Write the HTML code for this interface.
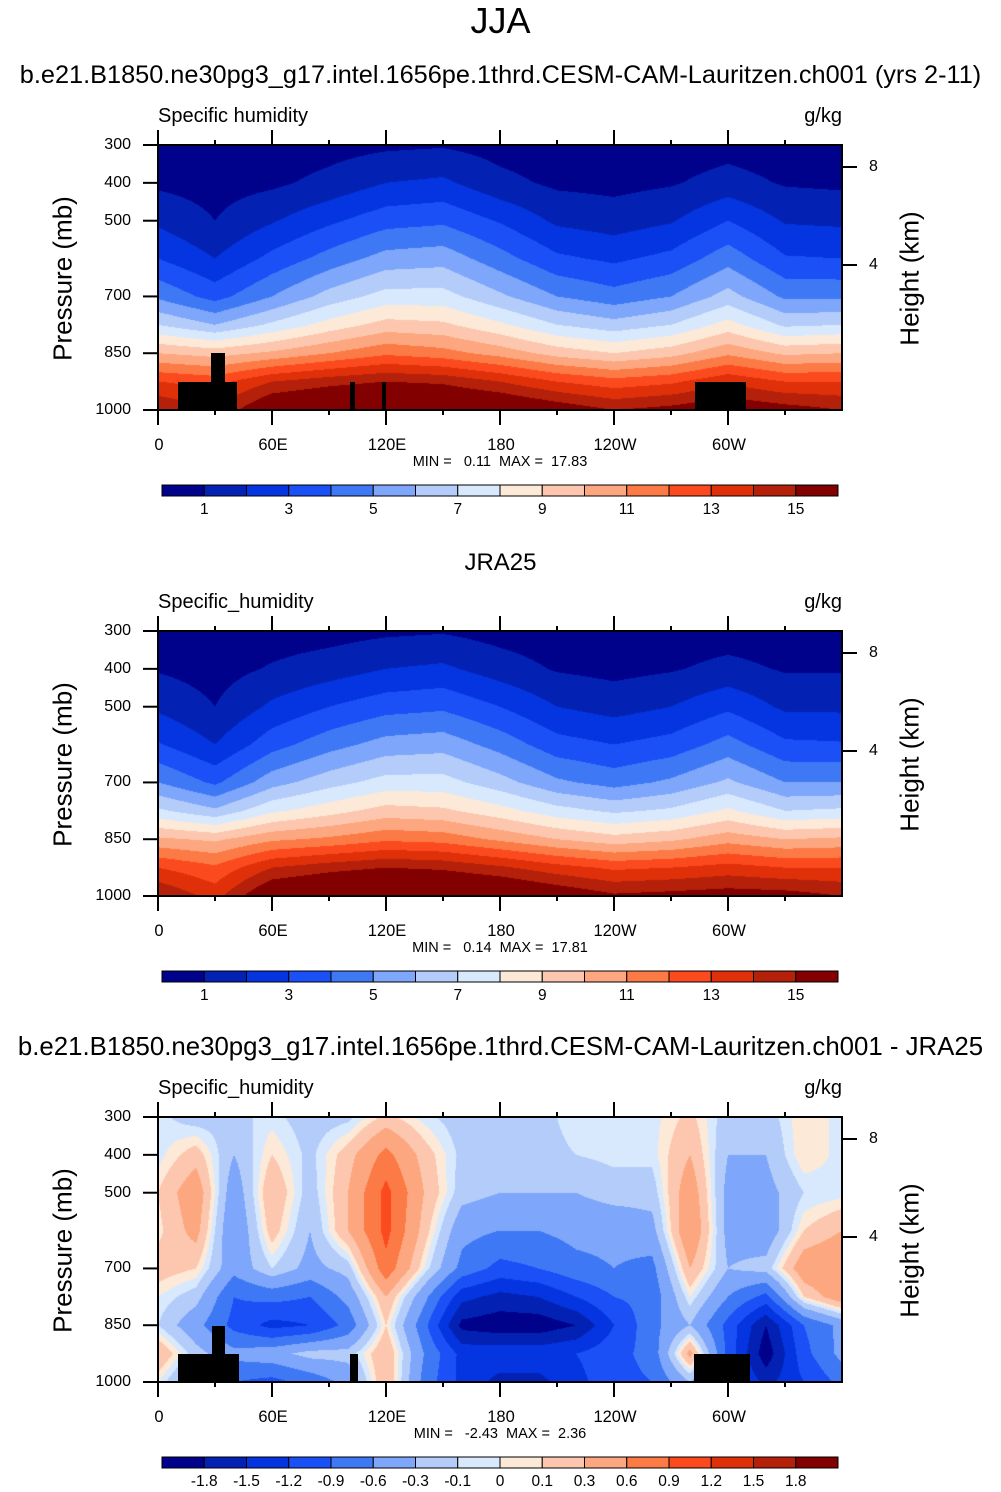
<!DOCTYPE html>
<html><head><meta charset="utf-8"><style>
body{margin:0;background:#fff;width:1001px;height:1492px;overflow:hidden;position:relative;font-family:"Liberation Sans",Arial,sans-serif;color:#000}
.t{position:absolute;white-space:nowrap}
canvas{position:absolute}
</style></head><body>
<div class="t" style="left:0;width:1001px;text-align:center;top:0px;font-size:36px">JJA</div>
<div class="t" style="left:0;width:1001px;text-align:center;top:61px;font-size:25.3px">b.e21.B1850.ne30pg3_g17.intel.1656pe.1thrd.CESM-CAM-Lauritzen.ch001 (yrs 2-11)</div>
<div class="t" style="left:0;width:1001px;text-align:center;top:549px;font-size:24px">JRA25</div>
<div class="t" style="left:0;width:1001px;text-align:center;top:1033px;font-size:25.8px">b.e21.B1850.ne30pg3_g17.intel.1656pe.1thrd.CESM-CAM-Lauritzen.ch001 - JRA25</div>
<div id="root"></div>
<script>
const lons13=[0,30,60,90,120,150,180,210,240,270,300,330,360];
const lons19=[0,20,40,60,80,100,120,140,160,180,200,220,240,260,280,300,320,340,360];
const levs=[300,400,500,600,700,775,850,925,1000];
const modelQ=[
[0.4,0.3,0.4,0.6,0.8,0.9,0.6,0.4,0.3,0.4,0.6,0.4,0.4],
[0.8,0.6,0.8,1.3,2.0,2.2,1.3,0.8,0.7,0.9,1.4,0.9,0.8],
[1.8,1.0,1.9,2.8,3.6,3.8,2.9,1.8,1.5,1.9,3.0,1.9,1.8],
[3.0,2.0,3.3,4.4,5.4,5.6,4.4,3.2,2.8,3.3,4.6,3.1,3.0],
[4.8,3.6,5.0,6.4,7.4,7.4,6.2,5.0,4.4,5.0,6.4,4.8,4.8],
[7.0,6.0,7.2,8.4,9.4,9.2,8.2,7.0,6.4,7.0,8.4,6.8,7.0],
[10,9.6,10.2,11,11.8,11.4,10.6,9.6,9.0,9.6,10.8,9.8,10],
[13,12.6,14,14.6,15,14.8,14,13,12.4,12.8,13.8,13,13],
[15,14,16.4,17,17.4,17,16.6,15.8,15,15.4,16,15.5,15]];
const obsQ=[
[0.4,0.3,0.5,0.6,0.8,0.9,0.6,0.4,0.3,0.4,0.5,0.4,0.4],
[0.9,0.6,1.1,1.5,2.0,2.2,1.5,0.9,0.7,0.9,1.3,0.9,0.9],
[1.8,1.0,2.2,3.0,3.6,3.8,3.0,2.0,1.6,2.0,2.8,1.8,1.8],
[3.1,2.0,3.6,4.6,5.4,5.6,4.6,3.4,3.0,3.4,4.4,3.2,3.1],
[5.0,3.8,5.6,6.6,7.4,7.4,6.4,5.2,4.6,5.2,6.2,5.0,5.0],
[7.2,6.2,7.8,8.6,9.4,9.2,8.4,7.4,6.8,7.2,8.2,7.0,7.2],
[10.2,9.8,10.8,11.2,11.8,11.6,10.8,10,9.4,9.8,10.6,10,10.2],
[13,12.2,14,14.6,15,14.8,14.2,13.4,12.8,13,13.4,13,13],
[15,13.6,16.4,17,17.4,17.2,16.8,16,15.2,15.4,15.6,15.5,15]];
const diffQ=[
[-0.05,-0.2,-0.15,-0.05,-0.2,-0.15,0.15,-0.05,-0.2,-0.2,-0.15,-0.05,-0.05,-0.05,0.15,-0.2,-0.2,0.1,-0.05],
[-0.05,0.2,-0.3,0.1,-0.15,0.2,0.7,0.2,-0.15,-0.2,-0.15,-0.1,-0.05,-0.05,0.3,-0.3,-0.3,0.1,-0.05],
[0.1,0.5,-0.5,0.3,-0.2,0.3,1.0,0.3,-0.2,-0.3,-0.3,-0.3,-0.2,-0.2,0.5,-0.4,-0.4,-0.1,-0.05],
[0.05,0.4,-0.6,0.2,-0.3,0.3,1.0,0.2,-0.5,-0.6,-0.6,-0.5,-0.5,-0.4,0.6,-0.4,-0.5,0.1,0.3],
[0.2,0.1,-0.5,-0.1,-0.4,-0.2,0.8,0,-0.7,-1.0,-0.9,-0.7,-0.6,-0.7,0.3,-0.3,-0.2,0.5,0.6],
[0,-0.2,-0.9,-0.8,-0.9,-0.5,0.3,-0.5,-1.4,-1.6,-1.5,-1.2,-0.9,-0.8,0,-0.6,-1.0,0.1,0.5],
[-0.1,-0.5,-1.0,-1.3,-1.2,-0.8,0.1,-0.8,-1.9,-2.0,-2.0,-1.8,-1.2,-0.7,-0.3,-1.0,-1.8,-0.9,-0.5],
[0.3,-0.2,-0.5,-0.4,-0.2,-0.2,0.3,-0.6,-1.3,-1.3,-1.3,-1.2,-1.0,-0.8,0.4,-1.0,-2.0,-1.0,-0.5],
[0,-0.5,-0.9,-1.0,-0.8,-0.5,0.3,-0.7,-1.3,-1.6,-1.6,-1.3,-1.0,-0.9,-0.3,-1.0,-1.6,-1.2,-0.8]];
const qLevels=[1,2,3,4,5,6,7,8,9,10,11,12,13,14,15];
const qLabels=['1','3','5','7','9','11','13','15'];
const dLevels=[-1.8,-1.5,-1.2,-0.9,-0.6,-0.3,-0.1,0,0.1,0.3,0.6,0.9,1.2,1.5,1.8];
const dLabels=['-1.8','-1.5','-1.2','-0.9','-0.6','-0.3','-0.1','0','0.1','0.3','0.6','0.9','1.2','1.5','1.8'];
const colors=['#00028c','#0322b4','#0535e0','#1a50f5','#3f78f5','#7ea6fa','#b4ccfa','#d8e9fe','#fde9d8','#fcc7ae','#fca77f','#fc7a45','#fc4a1f','#e0300a','#b4200a','#820000'];
const pTicks=[300,400,500,700,850,1000];
const lonLabels=['0','60E','120E','180','120W','60W'];
const minmax=[['0.11','17.83'],['0.14','17.81'],['-2.43','2.36']];

const root=document.getElementById('root');
const X0=158,W=684,H=265;
const xOf=l=>X0+l/360*W;
function rgb(h){return[parseInt(h.slice(1,3),16),parseInt(h.slice(3,5),16),parseInt(h.slice(5,7),16)];}
const rgbs=colors.map(rgb);
function interp(arr,v){let i=0;while(i<arr.length-2&&v>arr[i+1])i++;return[i,(v-arr[i])/(arr[i+1]-arr[i])];}
function text(s,x,y,size,align,name,extra){const d=document.createElement('div');d.className='t';d.textContent=s;


let st=`top:${y}px;font-size:${size}px;`;if(align==='c')st+=`left:${x-200}px;width:400px;text-align:center;`;else if(align==='r')st+=`left:${x-200}px;width:200px;text-align:right;`;else st+=`left:${x}px;`;d.style.cssText=st+(extra||'');root.appendChild(d);return d;}
function panel(Y0,lons,grid,levels,labels,labelIdx,topo,mm,ttl,pi){
 const c=document.createElement('canvas');c.width=W;c.height=H;c.style.left=X0+'px';c.style.top=Y0+'px';
 
 
 root.appendChild(c);const ctx=c.getContext('2d');const img=ctx.createImageData(W,H);
 for(let py=0;py<H;py++){const p=300+(py+0.5)/H*700;const[j,fy]=interp(levs,p);
  for(let px=0;px<W;px++){const l=(px+0.5)/W*360;const[i,fx]=interp(lons,l);
   const v=(grid[j][i]*(1-fx)+grid[j][i+1]*fx)*(1-fy)+(grid[j+1][i]*(1-fx)+grid[j+1][i+1]*fx)*fy;
   let k=0;while(k<levels.length&&v>=levels[k]-1e-9)k++;const col=rgbs[k];const o=(py*W+px)*4;
   img.data[o]=col[0];img.data[o+1]=col[1];img.data[o+2]=col[2];img.data[o+3]=255;}}
 ctx.putImageData(img,0,0);
 const NS='http://www.w3.org/2000/svg';const svg=document.createElementNS(NS,'svg');
 svg.setAttribute('width',1001);svg.setAttribute('height',1492);svg.style.cssText='position:absolute;left:0;top:0';
 
 
 let h='';
 topo.forEach(r=>{h+=`<rect x="${r[0]}" y="${Y0+r[1]}" width="${r[2]}" height="${r[3]}" fill="#000"/>`;});
 h+=`<rect x="${X0}" y="${Y0}" width="${W}" height="${H}" fill="none" stroke="#000" stroke-width="2"/>`;
 pTicks.forEach(p=>{const y=Y0+(p-300)/700*H;h+=`<line x1="${X0-15}" x2="${X0}" y1="${y}" y2="${y}" stroke="#000" stroke-width="2"/>`;});
 for(let l=0;l<360;l+=30){const x=xOf(l),len=l%60?5:15;h+=`<line x1="${x}" x2="${x}" y1="${Y0-len}" y2="${Y0}" stroke="#000" stroke-width="2"/><line x1="${x}" x2="${x}" y1="${Y0+H}" y2="${Y0+H+len}" stroke="#000" stroke-width="2"/>`;}
 [[8,22],[4,120]].forEach(t=>{h+=`<line x1="${X0+W}" x2="${X0+W+15}" y1="${Y0+t[1]}" y2="${Y0+t[1]}" stroke="#000" stroke-width="2"/>`;});
 const cy=Y0+340,bw=676/16;
 colors.forEach((c2,k)=>{h+=`<rect x="${162+k*bw}" y="${cy}" width="${bw}" height="11" fill="${c2}" stroke="#000" stroke-width="1"/>`;});
 svg.innerHTML=h;root.appendChild(svg);
 text(ttl,X0,Y0-40,20,'l','field-label-'+pi);
 text('g/kg',X0+W,Y0-40,20,'r','units-label-'+pi);
 pTicks.forEach(p=>text(String(p),131,Y0+(p-300)/700*H-9,16,'r','pressure-tick-'+p));
 [['8',22],['4',120]].forEach(t=>text(t[0],869,Y0+t[1]-9,16,'l','height-tick-'+t[0]));
 lonLabels.forEach((s,k)=>text(s,xOf(k*60)+1,Y0+H+26,16.5,'c','lon-label-'+s));
 text('MIN =   '+mm[0]+'  MAX =  '+mm[1],500,Y0+H+44,14.5,'c','min-max-'+pi,'white-space:pre;');
 labels.forEach((s,k)=>{const idx=labelIdx[k];text(s,162+(idx+1)*bw,cy+16,15.5,'c','colorbar-label-'+s);});
 text('Pressure (mb)',63,Y0+H/2-15,26,'c','y-axis-title-'+pi,'transform:rotate(-90deg);transform-origin:center;');
 text('Height (km)',910,Y0+H/2-15,26,'c','right-axis-title-'+pi,'transform:rotate(-90deg);transform-origin:center;');
}
panel(145,lons13,modelQ,qLevels,qLabels,[0,2,4,6,8,10,12,14],[[178,237,59,28],[211,208,14,29],[350,237,5,28],[382,237,4,28],[695,237,51,28]],minmax[0],'Specific humidity',1);
panel(631,lons13,obsQ,qLevels,qLabels,[0,2,4,6,8,10,12,14],[],minmax[1],'Specific_humidity',2);
panel(1117,lons19,diffQ,dLevels,dLabels,[0,1,2,3,4,5,6,7,8,9,10,11,12,13,14],[[178,237,61,28],[212,209,13,28],[350,237,8,28],[694,237,56,28]],minmax[2],'Specific_humidity',3);
</script>
</body></html>
